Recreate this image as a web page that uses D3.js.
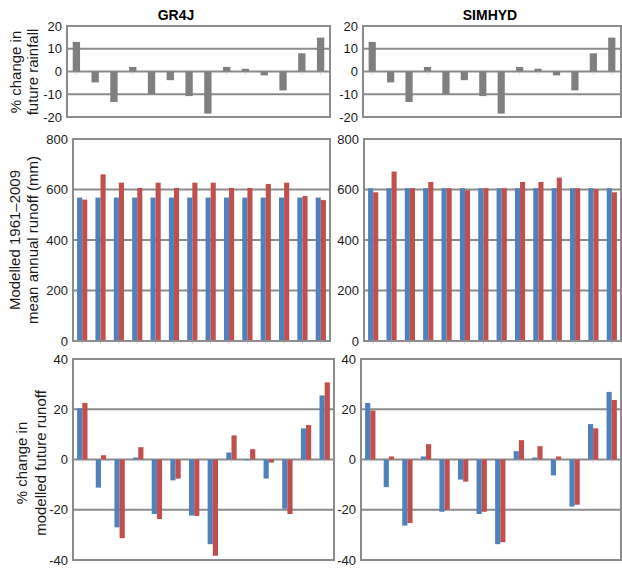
<html>
<head>
<meta charset="utf-8">
<script src="https://d3js.org/d3.v7.min.js"></script>
<style>
  body { margin: 0; background: white; }
</style>
</head>
<body>
<div id="chart"></div>

<script>

// Chart data
var categories = ["c1", "c2", "c3", "c4", "c5", "c6", "c7", "c8", "c9", "c10", "c11", "c12", "c13", "c14"]

var rainfall_change = [13, -4.8, -13.4, 2, -9.9, -3.8, -10.8, -18.5, 2, 1.2, -1.7, -8.3, 8, 14.9]

var gr4j_runoff_hist = [568, 568, 568, 568, 568, 568, 568, 568, 568, 568, 568, 568, 568, 568]
var gr4j_runoff_alt = [560, 660, 627, 606, 627, 606, 627, 627, 606, 606, 622, 627, 574, 558]
var simhyd_runoff_hist = [605, 605, 605, 605, 605, 605, 605, 605, 605, 605, 605, 605, 605, 605]
var simhyd_runoff_alt = [589, 671, 605, 630, 605, 597, 605, 605, 630, 630, 647, 605, 601, 589]

var gr4j_change_hist = [20.4, -11.2, -27, 0.8, -21.7, -8.3, -22.3, -33.7, 2.8, -0.3, -7.6, -19.6, 12.4, 25.5]
var gr4j_change_alt = [22.5, 1.7, -31.3, 4.9, -23.7, -7.6, -22.5, -38.3, 9.6, 4.1, -1.2, -21.7, 13.7, 30.7]
var simhyd_change_hist = [22.5, -11, -26.3, 1.2, -20.8, -8, -21.7, -33.7, 3.3, 0.8, -6.3, -18.7, 14.1, 26.9]
var simhyd_change_alt = [19.5, 1.2, -25.3, 6.1, -20, -8.8, -20.8, -32.9, 7.7, 5.3, 1.2, -18, 12.4, 23.7]

var rain_ticks = [-20, -10, 0, 10, 20]
var runoff_ticks = [0, 200, 400, 600, 800]
var change_ticks = [-40, -20, 0, 20, 40]

var model_titles = ["GR4J", "SIMHYD"]

// Svg Dimensions
var svg_width = 622
var svg_height = 568

var grey_bar = "#7f7f7f"
var blue_bar = "#4f81bd"
var red_bar = "#c0504d"
var grid_color = "#8c8c8c"
var font = "'Liberation Sans', Arial, sans-serif"

var svg = d3.select("#chart").append("svg")
  .attr("width", svg_width)
  .attr("height", svg_height)

var draw_panel = function(box, ticks, series, colors) {
  var g = svg.append("g")

  var x = d3.scaleBand()
    .domain(categories)
    .range([box.x0, box.x1])

  if (series.length == 1) {
    x.paddingInner(0.61).paddingOuter(0.305)
  }

  var inner = d3.scaleBand()
    .domain(d3.range(series.length))
    .range([0, x.bandwidth()])
    .paddingOuter(series.length == 1 ? 0 : 0.8)

  var y = d3.scaleLinear()
    .domain(d3.extent(ticks))
    .range([box.y1, box.y0])

  // gridlines
  g.selectAll(".grid")
    .data(ticks)
    .enter().append("line")
    .attr("x1", box.x0)
    .attr("x2", box.x1)
    .attr("y1", function(d) { return y(d) })
    .attr("y2", function(d) { return y(d) })
    .style("stroke", grid_color)
    .style("stroke-width", 2)

  // faint category ticks under the zero line
  g.selectAll(".cat_tick")
    .data(categories)
    .enter().append("line")
    .attr("x1", function(d) { return x(d) + x.bandwidth() / 2 })
    .attr("x2", function(d) { return x(d) + x.bandwidth() / 2 })
    .attr("y1", y(0))
    .attr("y2", y(0) + 3)
    .style("stroke", "#d0d0d0")
    .style("stroke-width", 1)

  series.forEach(function(values, s) {
    g.selectAll(".bar" + s)
      .data(values)
      .enter().append("rect")
      .attr("x", function(d, i) { return x(categories[i]) + inner(s) })
      .attr("width", inner.bandwidth())
      .attr("y", function(d) { return Math.min(y(d), y(0)) })
      .attr("height", function(d) { return Math.abs(y(d) - y(0)) })
      .style("fill", colors[s])
  })

  // plot frame
  g.append("rect")
    .attr("x", box.x0)
    .attr("y", box.y0)
    .attr("width", box.x1 - box.x0)
    .attr("height", box.y1 - box.y0)
    .style("fill", "none")
    .style("stroke", grid_color)
    .style("stroke-width", 2)

  var axis = g.append("g")
    .attr("transform", "translate(" + box.x0 + ",0)")
    .call(d3.axisLeft(y).tickValues(ticks).tickSize(0).tickPadding(5)
      .tickFormat(function(d) { return String(d) }))

  axis.select(".domain").remove()
  axis.selectAll("text")
    .style("font-family", font)
    .style("font-size", "13px")
    .style("fill", "#1a1a1a")
}

var axis_title = function(lines, cy, xs) {
  lines.forEach(function(line, i) {
    svg.append("text")
      .text(line)
      .attr("transform", "translate(" + xs[i] + "," + cy + ") rotate(-90)")
      .attr("text-anchor", "middle")
      .style("font-family", font)
      .style("font-size", "15px")
      .style("fill", "#1a1a1a")
  })
}

// titles
svg.append("text")
  .text(model_titles[0])
  .attr("x", 176)
  .attr("y", 20)
  .attr("text-anchor", "middle")
  .style("font-family", font)
  .style("font-weight", "bold")
  .style("font-size", "14px")

svg.append("text")
  .text(model_titles[1])
  .attr("x", 490)
  .attr("y", 20)
  .attr("text-anchor", "middle")
  .style("font-family", font)
  .style("font-weight", "bold")
  .style("font-size", "14px")

// top row: rainfall change
draw_panel({x0: 67, x1: 330, y0: 26, y1: 117}, rain_ticks, [rainfall_change], [grey_bar])
draw_panel({x0: 363, x1: 621, y0: 26, y1: 117}, rain_ticks, [rainfall_change], [grey_bar])

// middle row: mean annual runoff
draw_panel({x0: 73, x1: 330, y0: 139, y1: 341}, runoff_ticks, [gr4j_runoff_hist, gr4j_runoff_alt], [blue_bar, red_bar])
draw_panel({x0: 364, x1: 621, y0: 139, y1: 341}, runoff_ticks, [simhyd_runoff_hist, simhyd_runoff_alt], [blue_bar, red_bar])

// bottom row: change in runoff
draw_panel({x0: 73, x1: 334, y0: 359, y1: 560}, change_ticks, [gr4j_change_hist, gr4j_change_alt], [blue_bar, red_bar])
draw_panel({x0: 361, x1: 621, y0: 359, y1: 560}, change_ticks, [simhyd_change_hist, simhyd_change_alt], [blue_bar, red_bar])

axis_title(["% change in", "future rainfall"], 72, [21, 38])
axis_title(["Modelled 1961\u20132009", "mean annual runoff (mm)"], 240, [20, 38])
axis_title(["% change in", "modelled future runoff"], 463, [27, 46])

</script>
</body>
</html>
